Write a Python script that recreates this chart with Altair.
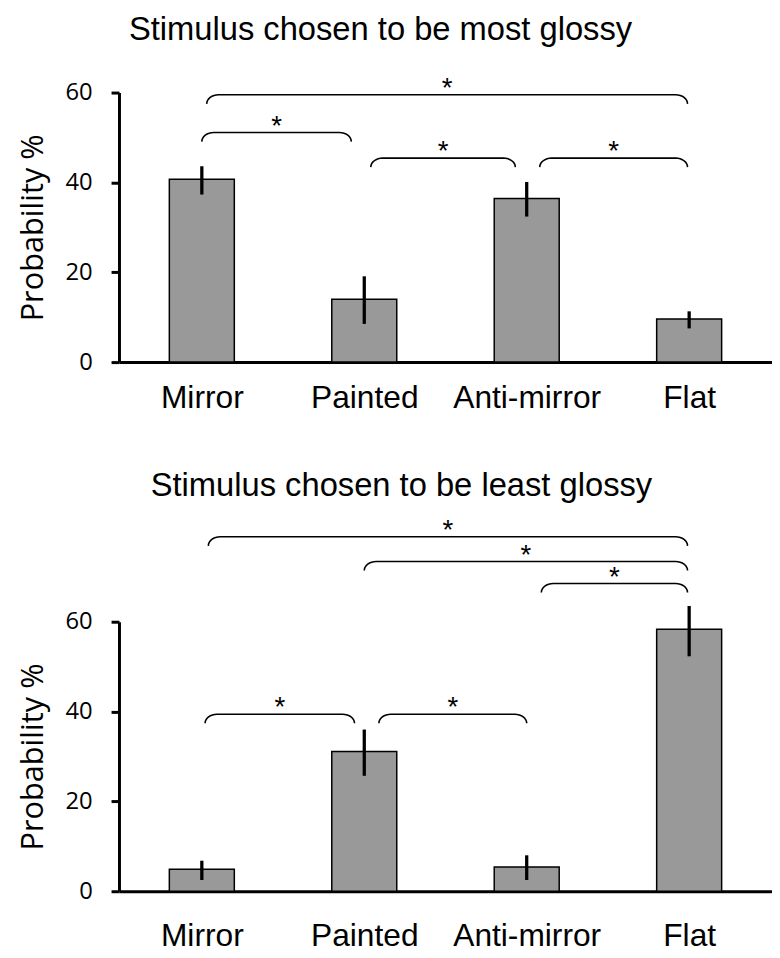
import json
import numpy as np
import pandas as pd
import altair as alt

# ---------------- data ----------------
categories = ["Mirror", "Painted", "Anti-mirror", "Flat"]
positions = [0, 1, 2, 3]

most_mean = [40.7, 14.0, 36.4, 9.6]
most_low = [37.3, 8.5, 32.4, 7.5]
most_high = [43.6, 19.1, 40.1, 11.3]

least_mean = [4.9, 31.1, 5.4, 58.3]
least_low = [2.5, 25.7, 2.5, 52.3]
least_high = [6.8, 36.0, 8.0, 63.5]

# significance brackets: start / end (category position) and height (%)
most_br_start = [0.03, 0.00, 1.04, 2.08]
most_br_end = [2.99, 0.92, 1.93, 2.99]
most_br_level = [59.5, 51.1, 45.4, 45.4]

least_br_start = [0.04, 1.00, 2.09, 0.02, 1.09]
least_br_end = [2.99, 2.99, 2.99, 0.94, 2.00]
least_br_level = [78.9, 73.4, 68.5, 39.4, 39.4]

y_ticks = [0, 20, 40, 60]
X_DOMAIN = [-0.51, 3.51]
Y_DOMAIN = [0, 60]

BAR_HALF = 0.2
CORNER_X = 0.073   # horizontal radius of bracket corner (category units)
CORNER_Y = 2.0     # drop of bracket ends (% units)

W, H = 659, 272

label_expr = json.dumps(categories) + "[datum.value]"


def bars_df(mean, low, high):
    return pd.DataFrame({
        "cat": categories, "pos": positions, "mean": mean,
        "low": low, "high": high,
    })


def bracket_paths(starts, ends, levels):
    rows = []
    t = np.linspace(0, np.pi / 2, 9)
    for b, (x1, x2, lv) in enumerate(zip(starts, ends, levels)):
        pts = []
        cy = lv - CORNER_Y
        for a in t:
            pts.append((x1 + CORNER_X - CORNER_X * np.cos(a), cy + CORNER_Y * np.sin(a)))
        for a in t[::-1]:
            pts.append((x2 - CORNER_X + CORNER_X * np.cos(a), cy + CORNER_Y * np.sin(a)))
        for k, (px, py) in enumerate(pts):
            rows.append({"b": b, "k": k, "x": px, "y": py})
    return pd.DataFrame(rows)


def stars_df(starts, ends, levels):
    return pd.DataFrame({
        "x": [(a + b) / 2 for a, b in zip(starts, ends)],
        "y": levels,
        "s": ["*"] * len(levels),
    })


def panel(title, mean, low, high, bs, be, bl, title_dx, title_offset, label_pad):
    xs = alt.Scale(domain=X_DOMAIN, nice=False, zero=False)
    ys = alt.Scale(domain=Y_DOMAIN, nice=False)
    x_axis = alt.Axis(
        values=positions, labelExpr=label_expr, ticks=False, tickSize=0,
        grid=False, domain=True, domainColor="black", domainWidth=3, title=None,
        labelFont="Liberation Sans", labelFontSize=32, labelColor="black",
        labelPadding=label_pad, labelFlush=False, labelOverlap=False,
    )
    y_axis = alt.Axis(
        values=y_ticks, grid=False, domain=True, domainColor="black",
        domainWidth=3, ticks=True, tickSize=8, tickWidth=3, tickColor="black",
        labelFont="Open Sans", labelFontSize=24, labelColor="black",
        labelPadding=19, title="Probability %", titleFont="Open Sans",
        titleFontSize=31, titleFontWeight="normal", titleColor="black",
        titlePadding=16,
    )
    df = bars_df(mean, low, high)
    base = alt.Chart(df)
    bars = base.transform_calculate(
        x1=f"datum.pos - {BAR_HALF}", x2=f"datum.pos + {BAR_HALF}", zero="0"
    ).mark_bar(color="#999999", stroke="black", strokeWidth=1.5).encode(
        x=alt.X("x1:Q", scale=xs, axis=x_axis),
        x2="x2:Q",
        y=alt.Y("mean:Q", scale=ys, axis=y_axis),
        y2="zero:Q",
    )
    err = base.mark_rule(color="black", strokeWidth=3.3).encode(
        x="pos:Q", y="low:Q", y2="high:Q"
    )
    br = alt.Chart(bracket_paths(bs, be, bl)).mark_line(
        color="black", strokeWidth=1.6
    ).encode(x="x:Q", y="y:Q", detail="b:N", order="k:Q")
    st = alt.Chart(stars_df(bs, be, bl)).mark_text(
        font="Liberation Sans", fontSize=28, color="black", baseline="alphabetic", dy=2
    ).encode(x="x:Q", y="y:Q", text="s:N")
    return alt.layer(bars, err, br, st).properties(
        width=W, height=H,
        title=alt.TitleParams(
            title, anchor="start", frame="group", dx=title_dx,
            offset=title_offset, font="Liberation Sans", fontSize=33,
            fontWeight="normal", color="black",
        ),
    )


top = panel("Stimulus chosen to be most glossy", most_mean, most_low, most_high,
            most_br_start, most_br_end, most_br_level, 10, 28, 21)
bottom = panel("Stimulus chosen to be least glossy", least_mean, least_low, least_high,
               least_br_start, least_br_end, least_br_level, 32, 14, 30)

chart = alt.vconcat(top, bottom, spacing=57).properties(
    padding={"left": 9, "top": 2, "right": 0, "bottom": 0}
).configure_view(stroke=None)

chart.save("out.html", embed_options={"renderer": "svg", "actions": False})
